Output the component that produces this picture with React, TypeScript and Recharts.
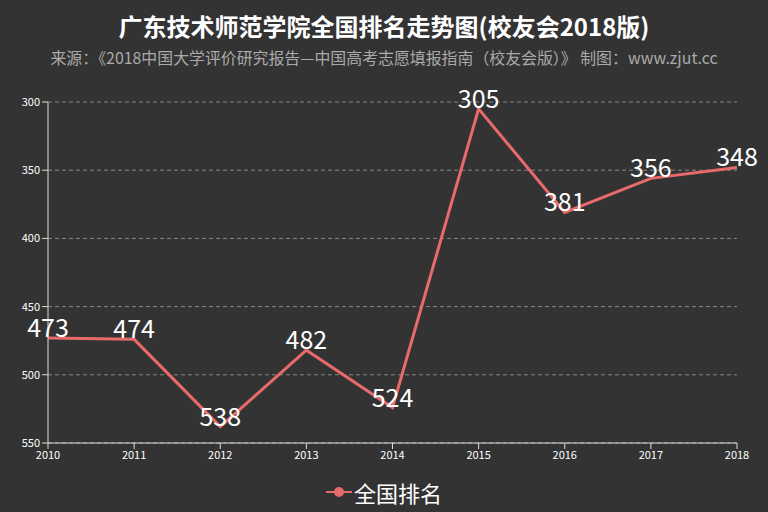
import { LineChart, Line, XAxis, YAxis, CartesianGrid, LabelList } from 'recharts'

const years = ['2010', '2011', '2012', '2013', '2014', '2015', '2016', '2017', '2018']
const ranks = [473, 474, 538, 482, 524, 305, 381, 356, 348]
const rankTicks = [300, 350, 400, 450, 500, 550]

const data = years.map((year, i) => ({ year, rank: ranks[i] }))

const FONT = '"Noto Sans CJK SC", "Noto Sans", sans-serif'
const LINE_COLOR = '#e86a6a'

export default function App() {
  return (
    <div style={{ position: 'absolute', left: 0, top: 0, width: 768, height: 512, background: '#333333', fontFamily: FONT }}>
      <div style={{ position: 'absolute', top: 9, width: 768, textAlign: 'center', color: '#fff', fontSize: 24, fontWeight: 'bold', lineHeight: '34px' }}>
        广东技术师范学院全国排名走势图(校友会2018版)
      </div>
      <div style={{ position: 'absolute', top: 46, width: 768, textAlign: 'center', color: '#aaaaaa', fontSize: 15.9, lineHeight: '24px' }}>
        来源：《2018中国大学评价研究报告—中国高考志愿填报指南（校友会版）》 制图：www.zjut.cc
      </div>
      <LineChart width={768} height={512} data={data} margin={{ top: 102, right: 31, left: 8, bottom: 39 }}>
        <CartesianGrid vertical={false} stroke="#888" strokeDasharray="4 3" />
        <XAxis
          dataKey="year"
          height={30}
          stroke="#ddd"
          tick={{ fill: '#fff', fontSize: 11 }}
          tickLine={{ stroke: '#ddd' }}
          interval={0}
        />
        <YAxis
          reversed
          domain={[300, 550]}
          ticks={rankTicks}
          width={40}
          stroke="#ddd"
          tick={{ fill: '#fff', fontSize: 11 }}
          tickLine={{ stroke: '#ddd' }}
          interval={0}
        />
        <Line
          type="linear"
          dataKey="rank"
          name="全国排名"
          stroke={LINE_COLOR}
          strokeWidth={3}
          dot={false}
          isAnimationActive={false}
        >
          <LabelList dataKey="rank" position="top" offset={1} fill="#fff" fontSize={25} />
        </Line>
      </LineChart>
      <div style={{ position: 'absolute', top: 477, width: 768, display: 'flex', justifyContent: 'center', alignItems: 'center' }}>
        <svg width={26} height={14} style={{ marginRight: 2 }}>
          <line x1={0} y1={7} x2={26} y2={7} stroke={LINE_COLOR} strokeWidth={2} />
          <circle cx={13} cy={7} r={5} fill={LINE_COLOR} />
        </svg>
        <span style={{ color: '#fff', fontSize: 22, lineHeight: '30px' }}>全国排名</span>
      </div>
    </div>
  )
}
